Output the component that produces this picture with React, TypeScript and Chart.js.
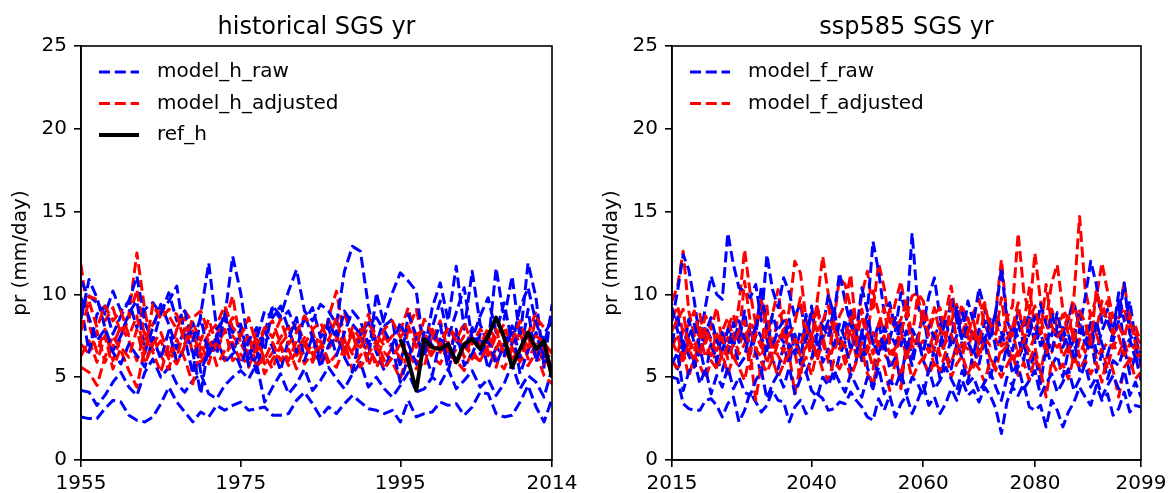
import React, { useEffect, useRef } from "react";
import { Chart, registerables } from "chart.js";

Chart.register(...registerables);

const FONT = "'DejaVu Sans', 'Liberation Sans', sans-serif";

// ---------- axes / labels ----------
const H_START = 1955;
const H_END = 2014;
const F_START = 2015;
const F_END = 2099;
const REF_START = 1995;
const hTicks = [1955, 1975, 1995, 2014];
const fTicks = [2015, 2040, 2060, 2080, 2099];
const yTicks = [0, 5, 10, 15, 20, 25];
const hTitle = "historical SGS yr";
const fTitle = "ssp585 SGS yr";
const yLabel = "pr (mm/day)";
const hLegendLabels = ["model_h_raw", "model_h_adjusted", "ref_h"];
const fLegendLabels = ["model_f_raw", "model_f_adjusted"];

// ---------- historical (1955-2014) ----------
const hRaw1 = [
  2.6, 2.5, 2.5, 3.1, 3.6, 3.5, 2.7, 2.4, 2.3, 2.6,
  3.4, 4.4, 3.5, 2.9, 2.3, 2.9, 2.6, 3.3, 3.0, 3.3,
  3.5, 3.0, 3.1, 3.2, 2.7, 2.7, 2.8, 3.6, 4.1, 3.4,
  2.6, 3.2, 2.8, 3.4, 3.9, 3.5, 3.1, 3.0, 2.8, 3.0,
  2.3, 3.6, 2.6, 2.8, 2.9, 3.5, 3.3, 3.4, 2.7, 3.2,
  4.1, 4.0, 2.8, 2.6, 2.7, 3.5, 4.5, 3.2, 2.3, 3.7,
];
const hRaw2 = [
  4.2, 4.1, 3.3, 3.9, 4.7, 5.3, 4.4, 3.9, 5.3, 6.1,
  5.0, 5.6, 4.6, 4.1, 4.8, 5.2, 4.0, 3.7, 4.5, 5.0,
  5.4, 4.9, 5.8, 3.5, 4.4, 5.2, 4.0, 4.6, 5.5, 4.2,
  4.8, 5.6, 4.9, 4.3, 5.2, 5.9, 4.4, 5.0, 4.3, 3.8,
  4.5, 5.3, 4.1, 4.3, 5.0, 4.6, 5.5, 4.3, 4.8, 5.4,
  4.4, 4.9, 3.9, 4.6, 5.8, 4.3, 5.1, 4.7, 3.8, 5.5,
];
const hRaw3 = [
  10.8, 9.9, 9.5, 8.8, 10.2, 9.0, 9.6, 11.1, 8.3, 7.1,
  8.9, 9.6, 10.5, 7.4, 5.2, 8.8, 11.9, 7.9, 8.6, 12.3,
  10.1, 6.8, 5.3, 7.7, 9.3, 8.7, 10.2, 11.5, 9.0, 8.4,
  9.4, 9.0, 8.2, 11.4, 12.9, 12.6, 9.3, 7.0, 8.6, 10.1,
  11.3, 10.8, 10.2, 6.5, 9.2, 10.7, 8.4, 11.7, 7.9, 11.4,
  8.2, 6.9, 11.6, 8.5, 11.1, 7.3, 11.9, 9.8, 5.6, 9.4,
];
const hRaw4 = [
  8.5, 10.9, 9.8, 8.0, 6.6, 7.5, 8.9, 9.6, 6.5, 8.0,
  9.4, 8.2, 6.7, 7.9, 6.5, 4.0, 7.0, 6.4, 8.7, 7.7,
  8.2, 6.1, 7.3, 9.0, 8.6, 9.3, 7.9, 6.5, 8.8, 7.4,
  6.0, 8.5, 7.2, 9.0, 8.2, 7.6, 6.0, 10.1, 8.1, 8.5,
  5.6, 8.8, 7.5, 6.3, 8.0, 9.6, 7.4, 8.9, 10.4, 7.3,
  8.7, 9.8, 7.7, 9.5, 7.0, 9.2, 10.4, 8.3, 6.9, 9.0,
];
const hRaw5 = [
  9.8, 8.6, 7.2, 7.9, 6.5, 5.8, 7.0, 6.3, 5.6, 7.4,
  6.1, 7.8, 5.9, 6.8, 8.3, 5.3, 6.7, 7.5, 5.9, 6.4,
  7.9, 5.7, 6.2, 7.8, 6.8, 5.4, 7.3, 8.6, 6.0, 7.5,
  5.6, 6.9, 7.8, 6.2, 5.3, 7.6, 8.3, 6.5, 5.4, 6.8,
  4.7, 6.2, 7.4, 6.6, 5.1, 7.3, 6.0, 7.9, 5.7, 6.4,
  7.6, 5.5, 6.8, 6.3, 7.9, 5.2, 6.6, 7.7, 5.9, 6.2,
];
const hRaw6 = [
  9.4, 6.5, 8.8, 9.3, 7.6, 8.7, 9.6, 8.0, 9.1, 9.5,
  8.8, 10.1, 8.4, 9.0, 7.2, 8.6, 6.3, 7.4, 8.9, 6.8,
  5.6, 7.2, 8.0, 6.6, 9.2, 8.5, 9.0, 7.8, 8.4, 9.2,
  7.4, 8.0, 6.3, 7.7, 9.0, 8.4, 7.0, 8.6, 7.8, 6.9,
  8.3, 7.0, 5.8, 7.7, 6.9, 8.2, 5.4, 7.2, 6.6, 8.0,
  6.4, 7.3, 5.8, 6.9, 8.1, 6.2, 9.1, 5.9, 7.6, 8.4,
];
const hAdj1 = [
  11.8, 8.2, 6.5, 7.9, 6.0, 7.4, 8.8, 12.5, 9.0, 6.6,
  7.2, 6.1, 7.9, 8.6, 6.4, 7.1, 5.8, 7.6, 8.3, 9.9,
  7.0, 6.2, 7.7, 5.8, 6.5, 7.4, 8.1, 6.3, 7.0, 7.8,
  6.1, 8.6, 10.2, 7.3, 6.4, 7.9, 6.8, 5.9, 7.5, 6.7,
  5.8, 7.9, 9.1, 6.9, 7.3, 8.4, 6.5, 7.8, 6.2, 7.4,
  7.0, 6.3, 7.5, 8.2, 6.8, 5.9, 7.6, 9.0, 6.4, 5.2,
];
const hAdj2 = [
  5.6, 5.3, 4.5, 6.2, 7.5, 6.6, 5.4, 4.4, 6.8, 7.5,
  6.3, 5.5, 7.3, 6.1, 4.6, 6.8, 7.6, 6.5, 7.9, 6.0,
  6.4, 5.6, 6.9, 5.2, 6.1, 6.8, 5.7, 6.6, 7.4, 5.9,
  6.9, 5.8, 6.4, 7.2, 5.4, 6.3, 7.0, 5.6, 6.5, 5.9,
  4.9, 6.6, 5.5, 7.0, 6.2, 5.8, 6.9, 6.0, 5.4, 6.6,
  5.9, 7.2, 6.1, 5.5, 6.7, 6.3, 5.7, 6.5, 5.1, 4.6,
];
const hAdj3 = [
  8.9, 9.9, 9.7, 8.4, 9.2, 7.6, 8.5, 10.3, 7.3, 8.2,
  9.1, 8.7, 7.9, 9.0, 8.3, 7.2, 8.5, 6.9, 7.8, 8.6,
  8.1, 7.4, 6.5, 7.9, 8.4, 7.0, 7.6, 8.3, 7.1, 6.6,
  7.7, 8.5, 7.4, 8.9, 7.2, 6.8, 8.2, 7.6, 6.9, 7.5,
  7.8, 9.2, 7.1, 6.4, 7.9, 7.0, 8.1, 7.4, 6.8, 7.7,
  6.9, 8.0, 7.3, 6.6, 7.8, 7.1, 6.5, 8.6, 8.0, 8.2,
];
const hAdj4 = [
  7.0, 6.4, 7.8, 5.9, 6.9, 8.1, 7.2, 6.0, 7.7, 6.5,
  5.3, 7.0, 6.2, 8.0, 7.4, 5.9, 6.6, 7.3, 6.0, 7.5,
  6.8, 7.5, 5.6, 6.3, 5.5, 6.9, 6.0, 7.2, 5.8, 6.5,
  5.9, 6.7, 7.5, 6.3, 7.8, 5.6, 6.4, 7.2, 6.0, 6.8,
  6.2, 5.7, 7.6, 7.8, 6.4, 7.2, 5.9, 6.7, 7.5, 6.1,
  7.4, 6.6, 7.9, 6.2, 6.9, 7.7, 6.1, 7.0, 5.8, 6.7,
];
const hAdj5 = [
  6.3, 7.2, 5.9, 7.5, 5.5, 6.8, 6.2, 7.9, 5.8, 7.0,
  7.7, 6.4, 5.8, 6.9, 7.8, 6.2, 7.4, 5.7, 6.6, 7.1,
  5.9, 6.8, 7.3, 6.1, 7.1, 6.0, 6.7, 5.5, 6.9, 6.2,
  7.2, 6.0, 5.6, 6.8, 6.6, 7.4, 5.7, 6.9, 5.5, 6.2,
  7.0, 6.3, 6.0, 5.6, 7.7, 6.5, 7.1, 5.7, 6.9, 6.3,
  6.0, 6.9, 5.6, 7.3, 6.1, 6.7, 7.4, 6.2, 6.8, 5.5,
];
const hAdj6 = [
  7.8, 9.6, 8.0, 9.3, 8.4, 9.0, 7.5, 8.7, 6.4, 9.4,
  8.5, 9.1, 8.8, 7.0, 8.6, 9.0, 7.7, 8.2, 9.3, 8.0,
  7.5, 8.6, 6.9, 8.0, 7.4, 8.5, 7.0, 7.7, 8.7, 7.9,
  8.3, 7.2, 8.6, 6.5, 8.0, 7.3, 8.8, 6.9, 7.9, 8.4,
  7.4, 8.1, 6.8, 8.5, 7.6, 6.9, 8.0, 7.2, 8.3, 7.0,
  7.9, 7.4, 6.7, 7.8, 7.2, 8.4, 6.8, 7.5, 7.1, 6.4,
];
// observed reference 1995-2014
const refH = [
  7.3, 6.0, 4.2, 7.3, 6.8, 6.7, 7.0, 5.9, 7.0, 7.3,
  6.7, 7.5, 8.6, 7.4, 5.6, 6.7, 7.7, 6.7, 7.2, 5.0,
];

// ---------- ssp585 (2015-2099) ----------
const fRaw1 = [
  5.0, 4.9, 3.4, 3.1, 3.0, 3.0, 3.6, 3.7, 3.3, 2.6,
  3.4, 3.8, 2.3, 3.0, 4.1, 3.5, 2.9, 3.3, 4.2, 3.6,
  3.5, 2.3, 3.2, 3.6, 2.8, 3.1, 4.0, 3.7, 3.0, 3.1,
  3.5, 3.4, 4.1, 3.6, 3.2, 2.6, 2.4, 3.7, 3.0, 3.9,
  2.6, 3.4, 3.9, 2.8, 3.6, 4.5, 3.3, 3.8, 2.8, 3.4,
  4.3, 3.6, 4.8, 3.9, 4.2, 3.5, 4.4, 3.9, 3.1, 1.6,
  3.5, 4.4, 3.9, 4.6, 3.2, 3.0, 3.3, 2.0, 3.6, 3.0,
  2.0, 2.9, 3.5, 4.4, 3.8, 3.3, 4.5, 3.6, 4.0, 2.7,
  3.1, 4.1, 2.9, 3.3, 3.2,
];
const fRaw2 = [
  8.4, 10.2, 12.4, 11.5, 9.6, 7.2, 9.3, 11.1, 10.0, 9.7,
  13.7, 11.8, 10.4, 10.2, 9.8, 10.6, 8.4, 12.4, 10.3, 9.2,
  11.0, 10.1, 8.6, 9.5, 7.4, 8.8, 9.2, 7.9, 10.0, 8.7,
  11.3, 9.6, 8.1, 7.5, 10.4, 9.0, 13.2, 11.4, 8.9, 9.5,
  7.8, 10.1, 8.5, 13.7, 9.4, 8.2, 9.9, 11.0, 8.6, 7.4,
  9.8, 8.5, 7.2, 9.6, 8.3, 10.4, 9.1, 7.8, 8.9, 11.6,
  8.4, 7.6, 9.0, 7.9, 8.8, 7.1, 9.4, 8.2, 7.5, 8.9,
  7.3, 8.6, 9.5, 8.0, 9.8, 12.0, 10.6, 8.3, 9.1, 7.7,
  10.1, 8.4, 9.6, 7.2, 6.5,
];
const fRaw3 = [
  6.0, 5.5, 7.2, 6.3, 5.6, 6.8, 5.2, 7.0, 6.1, 5.4,
  6.6, 7.4, 5.7, 6.2, 8.0, 6.5, 5.1, 7.3, 6.0, 5.5,
  6.9, 5.8, 7.5, 6.4, 5.3, 6.1, 7.6, 5.9, 6.7, 4.9,
  6.3, 7.1, 5.4, 6.0, 7.8, 5.6, 4.3, 6.5, 7.2, 5.5,
  6.2, 4.8, 6.9, 5.7, 7.4, 6.0, 5.2, 6.8, 4.9, 6.3,
  5.5, 7.0, 6.1, 4.7, 6.6, 5.8, 7.3, 5.0, 6.2, 5.4,
  6.9, 5.2, 6.0, 7.1, 5.5, 6.4, 4.6, 6.8, 5.7, 6.3,
  5.0, 6.6, 7.2, 5.4, 6.1, 7.5, 5.3, 6.4, 4.9, 6.0,
  5.7, 6.8, 5.2, 6.3, 4.8,
];
const fRaw4 = [
  9.2, 7.8, 6.4, 8.5, 7.0, 6.2, 8.1, 7.3, 5.9, 7.7,
  6.5, 8.3, 7.1, 9.0, 6.4, 7.5, 10.5, 8.0, 6.8, 7.9,
  8.4, 6.7, 7.6, 5.8, 8.8, 7.2, 6.3, 8.1, 7.4, 9.2,
  7.0, 8.5, 6.6, 7.7, 5.9, 8.3, 7.1, 6.4, 8.0, 7.3,
  8.6, 6.9, 7.8, 6.2, 7.4, 8.9, 6.7, 7.5, 8.2, 6.1,
  7.3, 9.3, 6.8, 8.0, 7.6, 6.5, 8.4, 7.2, 9.0, 7.7,
  6.6, 8.1, 7.4, 6.0, 8.6, 7.0, 7.8, 6.3, 8.9, 7.5,
  8.0, 6.8, 7.3, 9.1, 7.0, 8.3, 6.5, 7.8, 8.6, 7.2,
  8.4, 10.7, 7.6, 6.9, 5.8,
];
const fRaw5 = [
  5.8, 6.5, 4.2, 5.3, 6.0, 4.6, 5.5, 4.0, 5.1, 4.4,
  5.6, 4.3, 5.0, 4.1, 3.9, 4.8, 5.4, 3.7, 4.6, 5.2,
  4.4, 5.6, 4.0, 4.9, 5.3, 4.2, 3.8, 5.0, 4.5, 5.4,
  4.7, 4.1, 5.2, 4.5, 3.8, 5.0, 4.3, 5.6, 4.0, 4.8,
  4.4, 5.3, 4.0, 5.0, 4.6, 3.9, 5.5, 4.3, 4.8, 5.6,
  4.9, 4.2, 5.4, 4.6, 5.0, 4.1, 4.7, 5.3, 4.4, 3.6,
  5.0, 4.5, 5.7, 4.3, 4.8, 5.4, 3.9, 4.6, 5.2, 4.1,
  4.7, 5.5, 4.2, 4.9, 5.8, 4.4, 5.0, 3.8, 4.5, 5.1,
  4.3, 5.4, 3.9, 4.7, 3.8,
];
const fRaw6 = [
  7.0, 8.8, 6.6, 7.5, 8.2, 6.8, 7.7, 8.6, 7.2, 6.5,
  7.9, 6.9, 8.4, 7.3, 6.7, 8.1, 7.4, 6.6, 8.8, 7.6,
  7.1, 8.5, 6.4, 7.8, 7.0, 9.3, 6.8, 7.5, 8.4, 6.9,
  8.2, 7.3, 9.0, 6.5, 7.7, 8.8, 7.0, 8.3, 6.7, 7.6,
  7.0, 8.4, 6.6, 7.9, 7.2, 6.5, 8.1, 7.4, 6.9, 8.6,
  6.8, 7.5, 8.9, 7.1, 6.4, 7.9, 7.2, 8.5, 6.7, 7.4,
  7.8, 6.6, 8.3, 7.0, 7.6, 8.7, 6.9, 7.4, 6.5, 8.1,
  6.8, 7.6, 6.2, 7.9, 7.1, 6.6, 8.4, 7.0, 6.3, 7.7,
  9.6, 6.8, 7.3, 6.1, 6.6,
];
const fAdj1 = [
  9.6, 10.5, 12.6, 9.0, 7.5, 8.8, 7.0, 8.3, 6.9, 7.8,
  8.6, 7.3, 9.4, 12.7, 10.1, 8.2, 9.7, 7.6, 8.8, 10.3,
  7.4, 9.1, 12.0, 11.3, 8.5, 7.2, 9.6, 12.3, 10.0, 8.4,
  11.0, 10.6, 9.2, 7.8, 10.0, 11.4, 9.0, 11.9, 10.4, 8.1,
  9.5, 10.8, 8.7, 9.9, 10.1, 9.6, 8.0, 9.2, 7.6, 8.8,
  10.5, 8.3, 9.4, 7.5, 8.9, 9.7, 8.2, 7.4, 9.0, 12.1,
  8.6, 9.3, 13.7, 10.2, 8.8, 12.5, 9.6, 8.4, 10.7, 11.8,
  9.1, 8.5, 9.9, 14.7, 10.3, 8.7, 9.8, 11.9, 10.2, 8.6,
  9.0, 10.7, 8.3, 7.6, 6.9,
];
const fAdj2 = [
  7.2, 6.4, 7.9, 6.8, 5.9, 7.5, 6.2, 7.0, 5.6, 6.7,
  7.4, 6.0, 6.9, 7.8, 5.5, 6.6, 7.3, 5.8, 7.1, 6.3,
  5.7, 7.0, 6.5, 4.9, 7.6, 6.1, 6.8, 7.5, 5.9, 6.9,
  7.2, 5.8, 6.6, 7.7, 6.0, 6.9, 5.5, 7.3, 6.4, 5.9,
  6.8, 4.3, 7.1, 6.2, 7.5, 6.0, 6.9, 5.7, 7.2, 6.4,
  5.8, 7.0, 6.3, 7.6, 5.6, 6.8, 7.3, 6.1, 5.4, 6.9,
  7.1, 5.9, 6.6, 7.4, 6.0, 6.8, 5.3, 7.0, 6.5, 7.7,
  6.2, 6.9, 5.8, 7.3, 6.5, 7.8, 6.1, 6.7, 5.5, 7.0,
  6.4, 7.2, 5.9, 6.6, 5.6,
];
const fAdj3 = [
  8.5, 9.3, 7.6, 8.2, 9.0, 7.4, 8.7, 7.9, 9.2, 7.1,
  8.0, 8.8, 7.3, 10.8, 8.4, 7.7, 9.5, 8.1, 7.0, 8.6,
  9.0, 7.5, 8.3, 9.8, 7.2, 8.9, 7.8, 8.4, 9.3, 7.6,
  8.7, 9.4, 11.2, 8.0, 8.6, 7.4, 10.2, 8.9, 7.7, 9.1,
  7.9, 8.5, 9.6, 7.3, 10.0, 8.2, 7.6, 8.8, 9.2, 7.5,
  8.3, 9.4, 7.7, 8.6, 7.1, 8.9, 9.5, 7.8, 8.4, 7.0,
  8.7, 7.5, 9.0, 8.2, 10.4, 7.9, 8.6, 7.3, 9.1, 8.0,
  8.8, 7.6, 9.4, 8.1, 7.4, 8.9, 7.8, 9.6, 8.3, 7.5,
  8.6, 9.2, 7.7, 8.1, 7.0,
];
const fAdj4 = [
  6.1, 5.4, 6.6, 5.0, 6.3, 5.7, 4.9, 6.0, 5.5, 6.4,
  5.2, 6.2, 5.6, 4.8, 6.5, 3.6, 5.9, 5.3, 6.1, 5.0,
  5.8, 6.4, 4.0, 5.7, 6.2, 5.1, 6.6, 5.4, 4.8, 6.0,
  5.5, 6.3, 5.0, 5.9, 6.7, 5.2, 4.6, 6.1, 5.6, 4.2,
  5.9, 5.3, 6.4, 4.9, 5.7, 6.2, 5.1, 6.0, 5.4, 6.5,
  5.0, 5.8, 6.3, 5.2, 6.0, 5.5, 4.7, 6.1, 5.6, 5.0,
  5.7, 6.4, 5.1, 5.9, 4.8, 6.2, 5.4, 3.8, 6.0, 5.3,
  5.8, 4.9, 6.3, 5.5, 6.0, 5.2, 5.9, 4.7, 6.4, 5.4,
  3.8, 5.6, 6.1, 4.9, 5.3,
];
const fAdj5 = [
  6.8, 7.6, 6.0, 7.3, 6.5, 8.0, 6.9, 6.3, 7.7, 6.1,
  6.9, 7.5, 6.4, 7.0, 8.2, 6.7, 6.2, 7.8, 6.6, 7.2,
  6.5, 7.9, 7.1, 6.3, 6.8, 7.6, 6.0, 7.3, 8.1, 6.6,
  7.4, 6.8, 7.9, 6.2, 7.1, 6.5, 7.7, 6.9, 7.5, 6.4,
  7.0, 7.8, 6.1, 7.4, 6.8, 7.2, 6.5, 7.9, 6.3, 7.1,
  7.6, 6.4, 7.0, 6.7, 7.9, 6.2, 7.4, 6.9, 7.3, 6.5,
  6.9, 7.7, 6.3, 7.1, 6.6, 7.5, 8.0, 6.4, 7.2, 6.8,
  7.4, 6.5, 7.9, 6.2, 7.3, 6.9, 7.6, 6.6, 7.1, 6.8,
  7.5, 6.3, 7.0, 6.7, 6.2,
];
const fAdj6 = [
  7.8, 8.5, 9.1, 6.6, 7.2, 6.3, 8.0, 7.1, 6.6, 7.4,
  6.1, 7.0, 7.8, 8.4, 6.5, 7.6, 6.8, 9.3, 6.0, 7.1,
  7.9, 6.4, 7.3, 6.9, 8.1, 6.6, 9.4, 7.0, 6.2, 8.3,
  6.7, 7.5, 8.6, 6.9, 9.1, 7.6, 6.4, 8.2, 9.2, 7.0,
  6.3, 7.7, 8.9, 6.8, 7.1, 9.0, 7.4, 6.6, 8.0, 7.2,
  9.6, 7.1, 6.5, 7.8, 8.4, 6.9, 9.3, 8.2, 7.6, 9.8,
  7.3, 8.0, 9.5, 7.1, 8.5, 9.3, 7.6, 10.6, 8.1, 7.4,
  7.9, 8.7, 7.2, 9.0, 8.3, 7.0, 10.3, 8.8, 9.6, 7.6,
  8.1, 7.4, 8.8, 7.0, 6.5,
];

const hRawSeries = [hRaw1, hRaw2, hRaw3, hRaw4, hRaw5, hRaw6];
const hAdjSeries = [hAdj1, hAdj2, hAdj3, hAdj4, hAdj5, hAdj6];
const fRawSeries = [fRaw1, fRaw2, fRaw3, fRaw4, fRaw5, fRaw6];
const fAdjSeries = [fAdj1, fAdj2, fAdj3, fAdj4, fAdj5, fAdj6];

// ---------- styles ----------
const BLUE = "#0000ff";
const RED = "#ff0000";
const BLACK = "#000000";
const DASH = [11, 4.8];
const LW = 3;
const REF_LW = 4;

type LegendEntry = { label: string; color: string; width: number; dash: number[] };

function makeDataset(label: string, values: number[], start: number, color: string, dash: number[], width: number) {
  return {
    label,
    data: values.map((v, i) => ({ x: start + i, y: v })),
    borderColor: color,
    backgroundColor: color,
    borderWidth: width,
    borderDash: dash,
    borderJoinStyle: "round" as const,
    borderCapStyle: "butt" as const,
    pointRadius: 0,
    pointHoverRadius: 0,
    fill: false,
    tension: 0,
  };
}

function decorPlugin(title: string, legend: LegendEntry[]) {
  return {
    id: "decor",
    afterDraw(chart: any) {
      const { ctx, chartArea: ca } = chart;
      ctx.save();
      ctx.setLineDash([]);
      ctx.strokeStyle = "#000";
      ctx.lineWidth = 1.6;
      ctx.strokeRect(ca.left, ca.top, ca.right - ca.left, ca.bottom - ca.top);
      ctx.fillStyle = "#000";
      ctx.font = `24px ${FONT}`;
      ctx.textAlign = "center";
      ctx.textBaseline = "alphabetic";
      ctx.fillText(title, (ca.left + ca.right) / 2, ca.top - 12);
      legend.forEach((item, i) => {
        const y = ca.top + 26 + i * 31.5;
        ctx.beginPath();
        ctx.strokeStyle = item.color;
        ctx.lineWidth = item.width;
        ctx.lineCap = "butt";
        ctx.setLineDash(item.dash);
        ctx.moveTo(ca.left + 18, y);
        ctx.lineTo(ca.left + 58, y);
        ctx.stroke();
        ctx.setLineDash([]);
        ctx.fillStyle = "#000";
        ctx.font = `20px ${FONT}`;
        ctx.textAlign = "left";
        ctx.textBaseline = "middle";
        ctx.fillText(item.label, ca.left + 76, y);
      });
      ctx.restore();
    },
  };
}

function makeConfig(opts: {
  datasets: any[];
  xMin: number;
  xMax: number;
  xTicks: number[];
  title: string;
  legend: LegendEntry[];
  padRight: number;
}): any {
  const tickFont = { family: FONT, size: 20 };
  const grid = {
    display: true,
    drawOnChartArea: false,
    drawTicks: true,
    tickLength: 7,
    color: "#000",
    lineWidth: 1.6,
  };
  const border = { display: true, color: "#000", width: 1.6 };
  return {
    type: "line",
    data: { datasets: opts.datasets },
    options: {
      animation: false,
      responsive: false,
      devicePixelRatio: 1,
      events: [],
      layout: { padding: { top: 46, left: 0, right: opts.padRight, bottom: 0 } },
      plugins: {
        legend: { display: false },
        tooltip: { enabled: false },
        title: { display: false },
      },
      scales: {
        x: {
          type: "linear",
          min: opts.xMin,
          max: opts.xMax,
          afterBuildTicks: (axis: any) => {
            axis.ticks = opts.xTicks.map((v) => ({ value: v }));
          },
          afterFit: (axis: any) => {
            axis.height = 33;
          },
          ticks: {
            autoSkip: false,
            maxRotation: 0,
            minRotation: 0,
            padding: 5,
            color: "#000",
            font: tickFont,
            callback: (v: any) => String(v),
          },
          grid,
          border,
        },
        y: {
          type: "linear",
          min: 0,
          max: 25,
          afterBuildTicks: (axis: any) => {
            axis.ticks = yTicks.map((v) => ({ value: v }));
          },
          afterFit: (axis: any) => {
            axis.width = 81;
          },
          ticks: {
            autoSkip: false,
            padding: 7,
            color: "#000",
            font: tickFont,
            callback: (v: any) => String(v),
          },
          title: {
            display: true,
            text: yLabel,
            color: "#000",
            font: { family: FONT, size: 20 },
            padding: { top: 9, bottom: 0 },
          },
          grid,
          border,
        },
      },
    },
    plugins: [decorPlugin(opts.title, opts.legend)],
  };
}

function buildHistorical() {
  const drawOrder: any[] = [];
  hRawSeries.forEach((s, i) => {
    drawOrder.push(makeDataset(`${hLegendLabels[0]} ${i + 1}`, s, H_START, BLUE, DASH, LW));
    drawOrder.push(makeDataset(`${hLegendLabels[1]} ${i + 1}`, hAdjSeries[i], H_START, RED, DASH, LW));
  });
  drawOrder.push(makeDataset(hLegendLabels[2], refH, REF_START, BLACK, [], REF_LW));
  // Chart.js draws index 0 last (on top)
  return drawOrder.reverse();
}

function buildFuture() {
  const drawOrder: any[] = [];
  fRawSeries.forEach((s, i) => {
    drawOrder.push(makeDataset(`${fLegendLabels[0]} ${i + 1}`, s, F_START, BLUE, DASH, LW));
    drawOrder.push(makeDataset(`${fLegendLabels[1]} ${i + 1}`, fAdjSeries[i], F_START, RED, DASH, LW));
  });
  return drawOrder.reverse();
}

export default function App() {
  const leftRef = useRef<HTMLCanvasElement>(null);
  const rightRef = useRef<HTMLCanvasElement>(null);

  useEffect(() => {
    if (!leftRef.current || !rightRef.current) return;
    const c1 = new Chart(
      leftRef.current,
      makeConfig({
        datasets: buildHistorical(),
        xMin: H_START,
        xMax: H_END,
        xTicks: hTicks,
        title: hTitle,
        legend: [
          { label: hLegendLabels[0], color: BLUE, width: LW, dash: DASH },
          { label: hLegendLabels[1], color: RED, width: LW, dash: DASH },
          { label: hLegendLabels[2], color: BLACK, width: REF_LW, dash: [] },
        ],
        padRight: 39,
      })
    );
    const c2 = new Chart(
      rightRef.current,
      makeConfig({
        datasets: buildFuture(),
        xMin: F_START,
        xMax: F_END,
        xTicks: fTicks,
        title: fTitle,
        legend: [
          { label: fLegendLabels[0], color: BLUE, width: LW, dash: DASH },
          { label: fLegendLabels[1], color: RED, width: LW, dash: DASH },
        ],
        padRight: 34,
      })
    );
    return () => {
      c1.destroy();
      c2.destroy();
    };
  }, []);

  return (
    <div
      style={{
        position: "fixed",
        left: 0,
        top: 0,
        width: 1175,
        height: 493,
        background: "#fff",
        overflow: "hidden",
      }}
    >
      <canvas
        ref={leftRef}
        width={591}
        height={493}
        style={{ position: "absolute", left: 0, top: 0, width: 591, height: 493 }}
      />
      <canvas
        ref={rightRef}
        width={584}
        height={493}
        style={{ position: "absolute", left: 591, top: 0, width: 584, height: 493 }}
      />
    </div>
  );
}
